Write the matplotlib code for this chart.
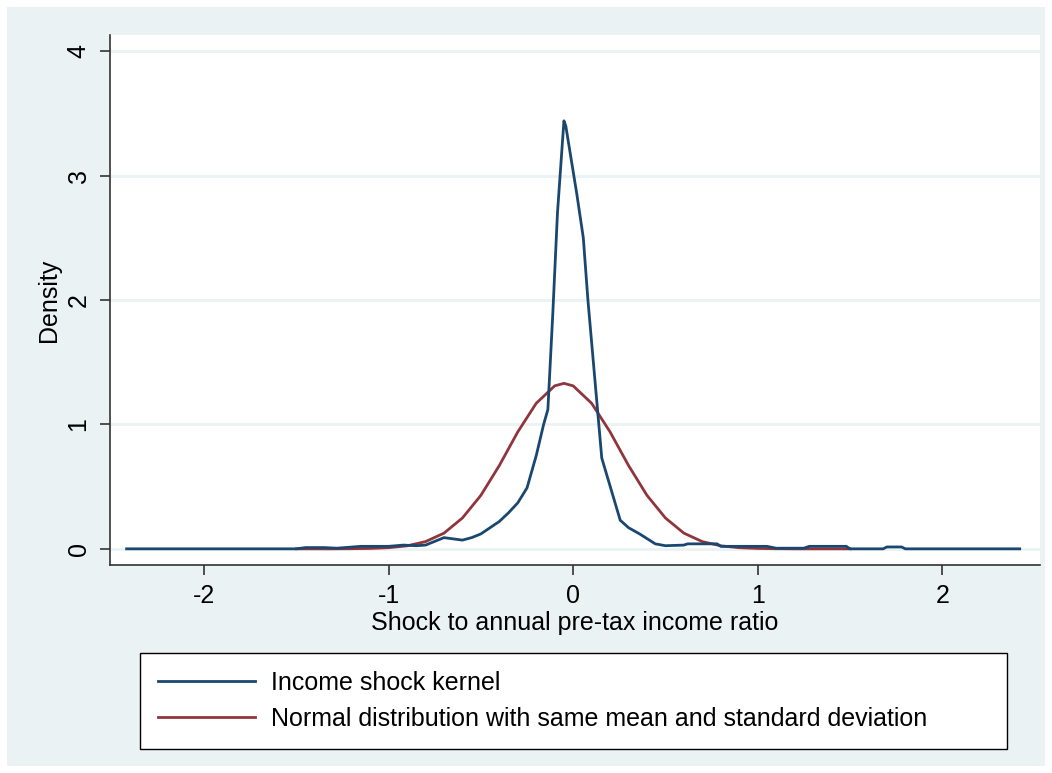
import matplotlib.pyplot as plt
from matplotlib.patches import Rectangle
from matplotlib.lines import Line2D

# Valores
kernel_x = [-2.42, -1.50, -1.45, -1.35, -1.28, -1.15, -1.00, -0.92, -0.85, -0.80,
            -0.75, -0.70, -0.65, -0.60, -0.55, -0.50, -0.45, -0.40, -0.35, -0.30,
            -0.25, -0.20, -0.16, -0.137, -0.11, -0.085, -0.05, -0.04, 0.02, 0.055,
            0.08, 0.155, 0.255, 0.30, 0.36, 0.445, 0.50, 0.60, 0.62, 0.78, 0.80,
            0.85, 1.05, 1.10, 1.25, 1.28, 1.48, 1.50, 1.68, 1.70, 1.78, 1.80, 2.42]
kernel_y = [0.0, 0.0, 0.01, 0.01, 0.005, 0.02, 0.02, 0.03, 0.025, 0.03,
            0.06, 0.09, 0.08, 0.07, 0.09, 0.12, 0.17, 0.22, 0.29, 0.37,
            0.49, 0.75, 1.0, 1.12, 1.9, 2.7, 3.44, 3.40, 2.85, 2.50,
            2.0, 0.73, 0.23, 0.17, 0.12, 0.04, 0.025, 0.03, 0.04, 0.04, 0.02,
            0.02, 0.02, 0.005, 0.005, 0.02, 0.02, 0.0, 0.0, 0.015, 0.015, 0.0, 0.0]

normal_x = [-1.5, -1.4, -1.3, -1.2, -1.1, -1.0, -0.9, -0.8, -0.7, -0.6, -0.5,
            -0.4, -0.3, -0.2, -0.1, -0.05, 0.0, 0.1, 0.2, 0.3, 0.4, 0.5, 0.6,
            0.7, 0.8, 0.9, 1.0, 1.1, 1.2, 1.3, 1.4, 1.5]
normal_y = [0.0, 0.0, 0.0, 0.001, 0.003, 0.009, 0.024, 0.058, 0.126, 0.248, 0.43,
            0.67, 0.94, 1.17, 1.31, 1.33, 1.31, 1.17, 0.94, 0.67, 0.43, 0.248, 0.126,
            0.058, 0.024, 0.009, 0.003, 0.001, 0.0, 0.0, 0.0, 0.0]

x_ticks = [-2, -1, 0, 1, 2]
y_ticks = [0, 1, 2, 3, 4]
series_labels = ['Income shock kernel',
                 'Normal distribution with same mean and standard deviation']

plt.rcParams['font.family'] = ['Liberation Sans', 'DejaVu Sans']

fondo = '#eaf2f3'
azul = '#1a476f'
rojo = '#90353b'
gris = '#333333'

fig = plt.figure(figsize=(10.52, 7.73), dpi=100, facecolor='white')
fig.patches.append(Rectangle((7 / 1052, 7 / 773), 1 - 14 / 1052, 1 - 14 / 773,
                             transform=fig.transFigure, facecolor=fondo,
                             edgecolor='none', zorder=-10))

ax = fig.add_axes([110 / 1052, 1 - 565 / 773, 930 / 1052, 530 / 773])
ax.set_facecolor('white')
ax.plot(kernel_x, kernel_y, color=azul, lw=2.0, zorder=3)
ax.plot(normal_x, normal_y, color=rojo, lw=2.0, zorder=2)

ax.set_xlim(-2.51, 2.53)
ax.set_ylim(-0.13, 4.13)
ax.set_xticks(x_ticks)
ax.set_yticks(y_ticks)
ax.set_xticklabels([str(t) for t in x_ticks], fontsize=18)
ax.set_yticklabels([str(t) for t in y_ticks], fontsize=18, rotation=90, va='center')
ax.tick_params(axis='both', color=gris, length=7, width=1.2, pad=7)
ax.grid(axis='y', color=fondo, lw=2, zorder=1)
for lado in ['top', 'right']:
    ax.spines[lado].set_visible(False)
for lado in ['left', 'bottom']:
    ax.spines[lado].set_color(gris)
    ax.spines[lado].set_linewidth(1.2)

ax.set_xlabel('Shock to annual pre-tax income ratio', fontsize=18, labelpad=2)
ax.set_ylabel('Density', fontsize=18, labelpad=4)

handles = [Line2D([], [], color=azul, lw=2.0), Line2D([], [], color=rojo, lw=2.0)]
leg = fig.legend(handles, series_labels, loc='upper left', mode='expand',
                 bbox_to_anchor=(140 / 1052, 1 - 743 / 773, 867 / 1052, 90 / 773),
                 borderaxespad=0, fontsize=18, frameon=True, fancybox=False,
                 edgecolor='black', framealpha=1, facecolor='white',
                 handlelength=3.9, handletextpad=0.65, labelspacing=0.5,
                 borderpad=0.7)
leg.get_frame().set_linewidth(1.0)

fig.savefig('out.png', dpi=100, facecolor='white')
